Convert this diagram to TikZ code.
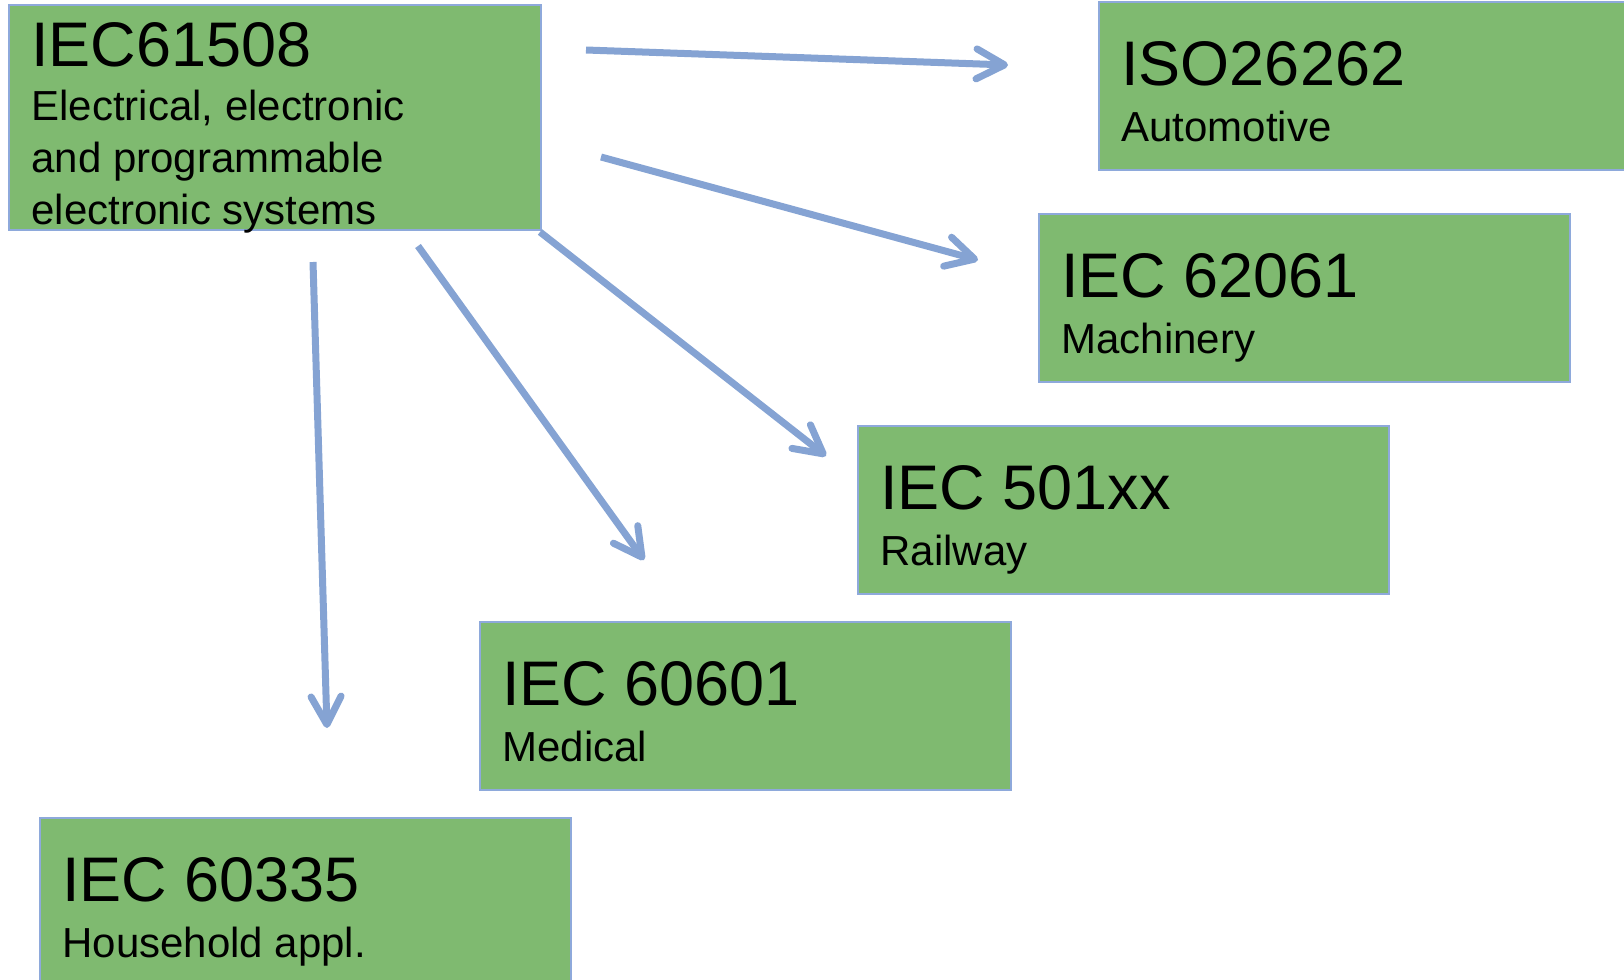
\documentclass[tikz,border=0pt]{standalone}
\usepackage{fontspec}
\setmainfont{Liberation Sans}
\usetikzlibrary{arrows.meta}
\definecolor{boxgreen}{RGB}{127,186,112}
\definecolor{boxline}{RGB}{142,169,219}
\definecolor{linkblue}{RGB}{133,163,211}

\begin{document}
\begin{tikzpicture}[x=0.5pt,y=-0.5pt,
  stdbox/.style={draw=boxline,line width=0.8pt,fill=boxgreen,anchor=north west,
    minimum width=265.5pt,minimum height=84pt,inner sep=0pt,outer sep=0pt},
  stdname/.style={anchor=base west,inner sep=0pt,font=\fontsize{31.5pt}{36pt}\selectfont},
  stddesc/.style={anchor=base west,inner sep=0pt,align=left,font=\fontsize{21pt}{26pt}\selectfont},
  link/.style={draw=linkblue,line width=3.5pt,-{Straight Barb[length=14pt,width=15pt,round]}}]
  \useasboundingbox (0,0) rectangle (1624,980);
  \clip (0,0) rectangle (1624,980);

  % the base standard
  \node[stdbox,minimum width=266pt,minimum height=112.5pt] (iec61508) at (9,5) {};
  \node[stdname] (iec61508-n) at ([shift={(22,61)}]iec61508.north west) {IEC61508};
  % base of a multi-line node is its last line
  \node[stddesc] (iec61508-d) at ([shift={(22,219)}]iec61508.north west)
    {Electrical, electronic\\and programmable\\electronic systems};

  % derived standards
  \node[stdbox] (iso26262) at (1099,2) {};
  \node[stdname] (iso26262-n) at ([shift={(22,83)}]iso26262.north west) {ISO26262};
  \node[stddesc] (iso26262-d) at ([shift={(22,139)}]iso26262.north west) {Automotive};

  \node[stdbox] (iec62061) at (1039,214) {};
  \node[stdname] (iec62061-n) at ([shift={(22,83)}]iec62061.north west) {IEC 62061};
  \node[stddesc] (iec62061-d) at ([shift={(22,139)}]iec62061.north west) {Machinery};

  \node[stdbox] (iec501xx) at (858,426) {};
  \node[stdname] (iec501xx-n) at ([shift={(22,83)}]iec501xx.north west) {IEC 501xx};
  \node[stddesc] (iec501xx-d) at ([shift={(22,139)}]iec501xx.north west) {Railway};

  \node[stdbox] (iec60601) at (480,622) {};
  \node[stdname] (iec60601-n) at ([shift={(22,83)}]iec60601.north west) {IEC 60601};
  \node[stddesc] (iec60601-d) at ([shift={(22,139)}]iec60601.north west) {Medical};

  \node[stdbox] (iec60335) at (40,818) {};
  \node[stdname] (iec60335-n) at ([shift={(22,83)}]iec60335.north west) {IEC 60335};
  \node[stddesc] (iec60335-d) at ([shift={(22,139)}]iec60335.north west) {Household appl.};

  % arrow ends
  \coordinate (to-iso-s) at (586,50);
  \coordinate (to-iso-e) at (1008,65);
  \coordinate (to-mach-s) at (601,157);
  \coordinate (to-mach-e) at (978,260);
  \coordinate (to-rail-s) at (540,232);
  \coordinate (to-rail-e) at (826,456);
  \coordinate (to-med-s) at (418,246);
  \coordinate (to-med-e) at (644,560);
  \coordinate (to-home-s) at (313,262);
  \coordinate (to-home-e) at (327,728);

  \draw[link] (to-iso-s) -- (to-iso-e);
  \draw[link] (to-mach-s) -- (to-mach-e);
  \draw[link] (to-rail-s) -- (to-rail-e);
  \draw[link] (to-med-s) -- (to-med-e);
  \draw[link] (to-home-s) -- (to-home-e);
\end{tikzpicture}
\end{document}
